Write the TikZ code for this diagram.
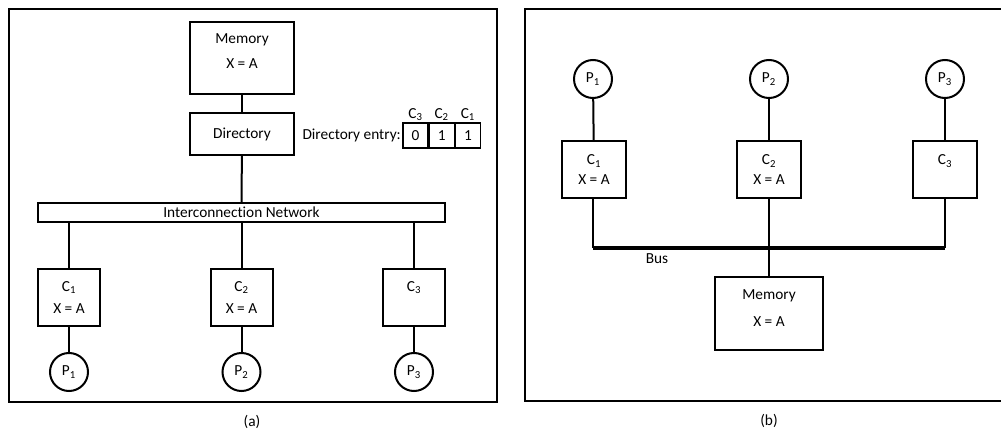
\documentclass[tikz,border=0pt]{standalone}
\usepackage{fontspec}
\setmainfont{Carlito}[Ligatures=NoCommon]
\usetikzlibrary{positioning}

\begin{document}
\begin{tikzpicture}[
    x=0.75pt, y=-0.75pt,
    font=\fontsize{11.5}{13.5}\selectfont,
    boxStyle/.style={rectangle, draw=black, line width=1.5pt, align=center, inner sep=0pt},
    procStyle/.style={circle, draw=black, line width=1.5pt, minimum size=28.5pt, inner sep=0pt},
    cellStyle/.style={rectangle, draw=black, line width=0.9pt, minimum width=18.75pt, minimum height=18.75pt, inner sep=0pt},
    wire/.style={line width=1.5pt},
    busStyle/.style={line width=2.8pt},
    frameStyle/.style={draw=black, line width=1.1pt}
]
    \useasboundingbox (0,0) rectangle (1001,432);

    % Frames
    \draw[frameStyle] (9,9) rectangle (497,402);
    \draw[frameStyle] (525,9) rectangle (1006,401);
    \node (capA) at (252,422) {(a)};
    \node (capB) at (769,421) {(b)};

    % (a) Memory and directory
    \node[boxStyle, minimum width=78pt, minimum height=54pt] (memA) at (242,58) {};
    \node[align=center, below=6pt of memA.north] (memAtext) {Memory\\[5pt]X = A};
    \node[boxStyle, minimum width=78pt, minimum height=31.5pt] (dir) at (242,134) {Directory};

    % Directory entry
    \node[cellStyle] (cell3) at (415.5,135.5) {0};
    \node[cellStyle, right=0pt of cell3] (cell2) {1};
    \node[cellStyle, right=0pt of cell2] (cell1) {1};
    \node[left=1pt of cell3, inner sep=0pt] (entry) {Directory entry:};
    \node[above=0pt of cell3, inner sep=1pt] (lab3) {C\textsubscript{3}};
    \node[above=0pt of cell2, inner sep=1pt] (lab2) {C\textsubscript{2}};
    \node[above=0pt of cell1, inner sep=1pt] (lab1) {C\textsubscript{1}};

    % Interconnection network
    \node[boxStyle, minimum width=305.25pt, minimum height=14.25pt] (net) at (241.5,212.5) {Interconnection Network};

    % (a) Caches and processors
    \node[boxStyle, minimum width=46.5pt, minimum height=42.75pt] (cA1) at (69,297.5) {C\textsubscript{1}\\[3pt]X = A};
    \node[boxStyle, minimum width=46.5pt, minimum height=42.75pt] (cA2) at (241.5,297.5) {C\textsubscript{2}\\[3pt]X = A};
    \node[boxStyle, minimum width=46.5pt, minimum height=42.75pt] (cA3) at (414,297.5) {C\textsubscript{3}\\[3pt]\phantom{X = A}};
    \node[procStyle] (pA1) at (69,372) {P\textsubscript{1}};
    \node[procStyle] (pA2) at (241.5,372) {P\textsubscript{2}};
    \node[procStyle] (pA3) at (414,372) {P\textsubscript{3}};

    \draw[wire] (memA) -- (dir);
    \draw[wire] (dir) -- (net);
    \foreach \i in {1,2,3} {
        \draw[wire] (net.south -| cA\i.north) -- (cA\i);
        \draw[wire] (cA\i) -- (pA\i);
    }

    % (b) Processors and caches
    \node[procStyle] (pB1) at (593,79) {P\textsubscript{1}};
    \node[procStyle] (pB2) at (769,79) {P\textsubscript{2}};
    \node[procStyle] (pB3) at (945,79) {P\textsubscript{3}};
    \node[boxStyle, minimum width=48pt, minimum height=42.75pt] (cB1) at (594,169.5) {C\textsubscript{1}\\[1pt]X = A};
    \node[boxStyle, minimum width=48pt, minimum height=42.75pt] (cB2) at (769,169.5) {C\textsubscript{2}\\[1pt]X = A};
    \node[boxStyle, minimum width=48pt, minimum height=42.75pt] (cB3) at (945,169.5) {C\textsubscript{3}\\[1pt]\phantom{X = A}};

    % Bus
    \coordinate (busL) at (593,248);
    \coordinate (busR) at (945,248);
    \draw[busStyle] (busL) -- (busR);
    \node (bus) at (657,259) {Bus};

    % (b) Memory
    \node[boxStyle, minimum width=81pt, minimum height=54.75pt] (memB) at (769,313.5) {};
    \node[align=center, below=7pt of memB.north] (memBtext) {Memory\\[6.5pt]X = A};

    \foreach \i in {1,2,3} {
        \draw[wire] (pB\i) -- (cB\i);
    }
    \draw[wire] (cB1.south -| busL) -- (busL);
    \draw[wire] (cB2) -- (memB);
    \draw[wire] (cB3.south -| busR) -- (busR);
\end{tikzpicture}
\end{document}
